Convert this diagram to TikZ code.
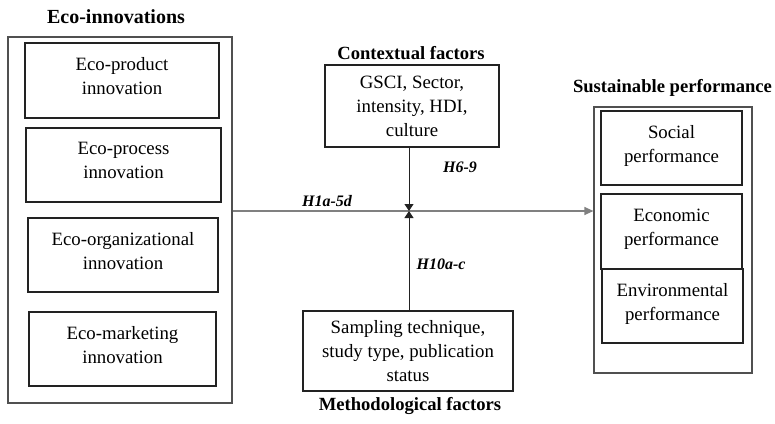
\documentclass[tikz,border=0pt]{standalone}
\usepackage{fontspec}
\setmainfont{Liberation Serif}
\usetikzlibrary{arrows.meta}
\definecolor{boxc}{HTML}{222222}
\definecolor{outc}{HTML}{505050}
\definecolor{linec}{HTML}{808080}
\begin{document}
\begin{tikzpicture}[x=1pt,y=-1pt,
  inbox/.style={draw=boxc,line width=1.6pt,inner sep=0pt,align=center,
    font=\fontsize{18.8}{24}\selectfont},
  outbox/.style={draw=outc,line width=1.2pt,inner sep=0pt},
  ttl/.style={inner sep=0pt,font=\fontsize{18.6}{22}\selectfont\bfseries},
  hyp/.style={inner sep=0pt,font=\fontsize{16}{19}\selectfont\bfseries\itshape},
  tip/.style={-{Triangle[width=9pt,length=7pt]}}]
\useasboundingbox (0,0) rectangle (775,423);
% left group
\node[outbox,minimum width=224pt,minimum height=366pt] (eco) at (120,220) {};
\node[ttl,font=\fontsize{20}{24}\selectfont\bfseries] (ecot) at (116,17) {Eco-innovations};
\node[inbox,minimum width=194pt,minimum height=75pt] (e1) at (122,80.5) {Eco-product\\innovation\rule[-9pt]{0pt}{0pt}};
\node[inbox,minimum width=195pt,minimum height=74pt] (e2) at (123.5,165) {Eco-process\\innovation\rule[-9pt]{0pt}{0pt}};
\node[inbox,minimum width=190pt,minimum height=74pt] (e3) at (123,255) {Eco-organizational\\innovation\rule[-9pt]{0pt}{0pt}};
\node[inbox,minimum width=187pt,minimum height=74pt] (e4) at (122.5,349) {Eco-marketing\\innovation\rule[-9pt]{0pt}{0pt}};
% contextual
\node[ttl] (ctxt) at (411,53) {Contextual factors};
\node[inbox,minimum width=174pt,minimum height=82pt] (ctx) at (412,106) {GSCI, Sector,\\intensity, HDI,\\culture};
% methodological
\node[inbox,minimum width=210pt,minimum height=80pt] (met) at (408,351) {Sampling technique,\\study type, publication\\status};
\node[ttl] (mett) at (410,406) {Methodological factors};
% right group
\node[outbox,minimum width=158pt,minimum height=266pt] (sus) at (673,240) {};
\node[ttl] (sust) at (672.5,88) {Sustainable performance};
\node[inbox,minimum width=141pt,minimum height=74pt] (s1) at (671.5,148) {Social\\performance\rule[-9pt]{0pt}{0pt}};
\node[inbox,minimum width=141pt,minimum height=75pt] (s2) at (671.5,231.5) {Economic\\performance\rule[-9pt]{0pt}{0pt}};
\node[inbox,minimum width=141pt,minimum height=74pt] (s3) at (672.5,306) {Environmental\\performance\rule[-9pt]{0pt}{0pt}};
% connectors
\coordinate (cross) at (409,211);
\draw[linec,line width=1.2pt,tip,-{Triangle[width=8pt,length=9pt]}] (eco.east |- cross) -- (sus.west |- cross);
\draw[boxc,line width=1pt,tip] (ctx.south -| cross) -- (cross);
\draw[boxc,line width=1pt,tip] (met.north -| cross) -- (cross);
% labels
\node[hyp] (h1) at (327,201) {H1a-5d};
\node[hyp] (h6) at (460,167) {H6-9};
\node[hyp] (h10) at (441,264) {H10a-c};
\end{tikzpicture}
\end{document}
